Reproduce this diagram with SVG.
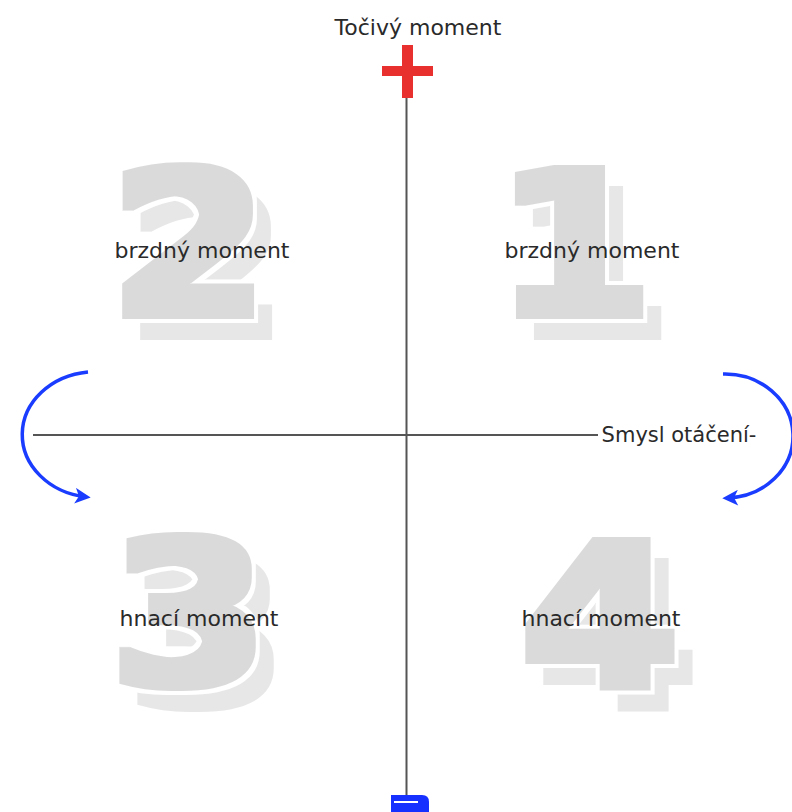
<svg xmlns="http://www.w3.org/2000/svg" width="792" height="812" viewBox="0 0 792 812">
<style>
.lbl{font-family:"DejaVu Sans",Verdana,sans-serif;font-size:22px;fill:#2a2a2a;text-anchor:middle}
.dig{font-family:"DejaVu Sans",sans-serif;font-weight:bold;font-size:200px;text-anchor:middle;fill:#dadada;filter:url(#d3)}
.axis{stroke:#555;stroke-width:2;fill:none}
.rot{stroke:#1a3cff;stroke-width:3.5;fill:none;marker-end:url(#ah)}
</style>
<defs>
<marker id="ah" viewBox="0 0 10 10" refX="7" refY="5" markerWidth="5.5" markerHeight="4.5" orient="auto" markerUnits="strokeWidth">
<path d="M0,0 L10,5 L0,10 L2.5,5 Z" fill="#1a3cff"/>
</marker>
<filter id="d3" x="-30%" y="-30%" width="170%" height="170%">
<feMorphology in="SourceAlpha" operator="dilate" radius="4" result="a"/>
<feMorphology in="SourceAlpha" operator="dilate" radius="8" result="b"/>
<feFlood flood-color="#dadada"/><feComposite in2="a" operator="in" result="face"/>
<feFlood flood-color="#ffffff"/><feComposite in2="b" operator="in" result="gap"/>
<feOffset in="a" dx="16" dy="21" result="so"/>
<feFlood flood-color="#e7e7e7"/><feComposite in2="so" operator="in" result="sh"/>
<feMerge><feMergeNode in="sh"/><feMergeNode in="gap"/><feMergeNode in="face"/></feMerge>
</filter>
</defs>
<rect width="792" height="812" fill="#fff"/>
<g id="q2">
<text class="dig" x="189" y="315" transform="translate(189 0) scale(1.15 1) translate(-189 0)">2</text>
<text class="lbl" x="202" y="258">brzdný moment</text>
</g>
<g id="q1">
<text class="dig" x="574" y="315" transform="translate(574 0) scale(1.15 1) translate(-574 0)">1</text>
<text class="lbl" x="592" y="258">brzdný moment</text>
</g>
<g id="q3">
<text class="dig" x="189" y="684" transform="translate(189 0) scale(1.15 1) translate(-189 0)">3</text>
<text class="lbl" x="199" y="626">hnací moment</text>
</g>
<g id="q4">
<text class="dig" x="600" y="687" transform="translate(600 0) scale(1.15 1) translate(-600 0)">4</text>
<text class="lbl" x="601" y="626">hnací moment</text>
</g>
<g id="connectors">
<line class="axis" x1="406.5" y1="97" x2="406.5" y2="797"/>
<line class="axis" x1="33" y1="435" x2="598" y2="435"/>
<path class="rot" d="M88,372 A74,63 0 0 0 86,497"/>
<path class="rot" d="M723,374 A68,62 0 0 1 727,498"/>
</g>
<g id="plus">
<rect x="382" y="66" width="51" height="10" fill="#e8302f"/>
<rect x="402" y="45" width="11" height="53" fill="#e8302f"/>
</g>
<g id="minus">
<path d="M391,795 H422 Q429,795 429,802 V812 H391 Z" fill="#1530ff"/>
<rect x="394" y="801" width="24" height="2" fill="#fff"/>
</g>
<g id="labels">
<text class="lbl" x="418" y="35">Točivý moment</text>
<text class="lbl" x="679" y="442" style="font-size:21px">Smysl otáčení-</text>
</g>
</svg>
